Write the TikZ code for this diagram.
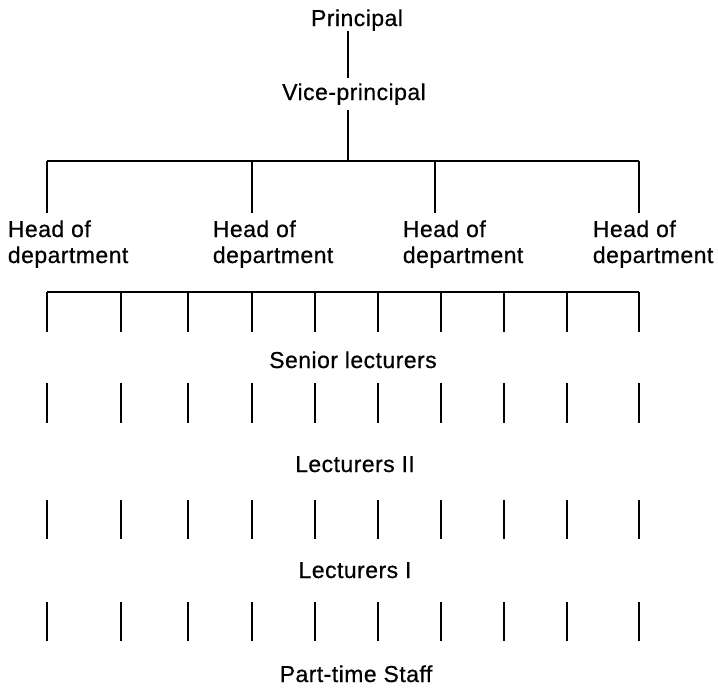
\documentclass[tikz,border=0pt]{standalone}
\usepackage{fontspec}
\setmainfont{Liberation Sans}[LetterSpace=2,FakeBold=0.6]
\begin{document}
\begin{tikzpicture}[x=1pt,y=-1pt,line width=1.8pt,
  lbl/.style={inner sep=0pt,anchor=base,font=\fontsize{23}{26}\selectfont},
  head/.style={inner sep=0pt,anchor=base west,align=left,font=\fontsize{23}{26}\selectfont}]
\useasboundingbox (0,0) rectangle (718,688);

% top of the hierarchy
\node[lbl] (principal) at (357,26) {Principal};
\node[lbl] (vice) at (354,100) {Vice-principal};
\coordinate (pv1) at (348,31);
\coordinate (pv2) at (348,78);
\draw (pv1) -- (pv2);
\coordinate (vb1) at (348,110);
\coordinate (vb2) at (348,161);
\draw (vb1) -- (vb2);

% bar to the heads of department
\coordinate (hbarL) at (47,161);
\coordinate (hbarR) at (639,161);
\draw (hbarL) -- (hbarR);
\foreach \x/\tx [count=\i] in {47/7,252/212,435/402,639/592}{
  \coordinate (ht\i) at (\x,161);
  \coordinate (hb\i) at (\x,213);
  \draw (ht\i) -- (hb\i);
  \node[head] (hod\i) at (\tx,263) {Head of\\department};
}

% staff levels
\node[lbl] (senior) at (353,368) {Senior lecturers};
\node[lbl] (lect2) at (355,472) {Lecturers II};
\node[lbl] (lect1) at (355,578) {Lecturers I};
\node[lbl] (parttime) at (356,682) {Part-time Staff};

% bar to the senior lecturers and the columns below
\coordinate (sbarL) at (47,292);
\coordinate (sbarR) at (639,292);
\draw (sbarL) -- (sbarR);
\foreach \x [count=\i] in {47,121,188,252,315,378,441,504,567,639}{
  \coordinate (s\i a) at (\x,292);
  \coordinate (s\i b) at (\x,332);
  \draw (s\i a) -- (s\i b);
  \coordinate (l\i a) at (\x,383);
  \coordinate (l\i b) at (\x,423);
  \draw (l\i a) -- (l\i b);
  \coordinate (m\i a) at (\x,500);
  \coordinate (m\i b) at (\x,539);
  \draw (m\i a) -- (m\i b);
  \coordinate (n\i a) at (\x,602);
  \coordinate (n\i b) at (\x,641);
  \draw (n\i a) -- (n\i b);
}
\end{tikzpicture}
\end{document}
